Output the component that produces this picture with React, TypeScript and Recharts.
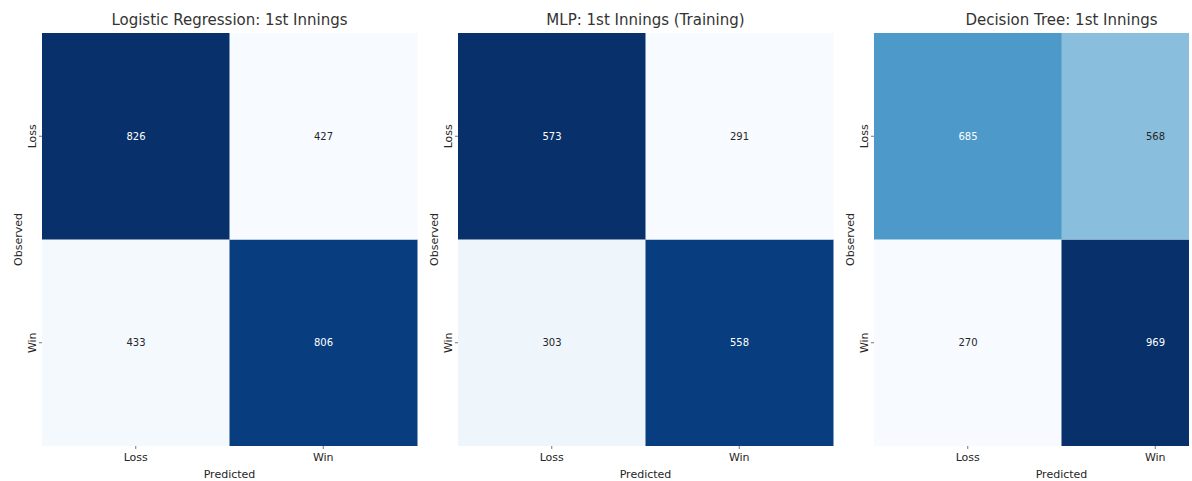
import React from "react";
import { BarChart, Bar, XAxis, YAxis, Cell, LabelList } from "recharts";

const outcomeLabels = ["Loss", "Win"];
const chartTitles = [
  "Logistic Regression: 1st Innings",
  "MLP: 1st Innings (Training)",
  "Decision Tree: 1st Innings",
];
// rows = observed outcome, entries = predicted [Loss, Win]
const logisticObservedLoss = [826, 427];
const logisticObservedWin = [433, 806];
const mlpObservedLoss = [573, 291];
const mlpObservedWin = [303, 558];
const treeObservedLoss = [685, 568];
const treeObservedWin = [270, 969];

const BLUES = [
  "#f7fbff", "#deebf7", "#c6dbef", "#9ecae1", "#6baed6",
  "#4292c6", "#2171b5", "#08519c", "#08306b",
];

function hex(c: string) {
  return [1, 3, 5].map((i) => parseInt(c.slice(i, i + 2), 16));
}
function blues(t: number) {
  const tt = Math.max(0, Math.min(1, t)) * (BLUES.length - 1);
  const i = Math.min(BLUES.length - 2, Math.floor(tt));
  const f = tt - i;
  const a = hex(BLUES[i]);
  const b = hex(BLUES[i + 1]);
  const c = a.map((v, k) => Math.round(v + (b[k] - v) * f));
  return `rgb(${c[0]},${c[1]},${c[2]})`;
}

const FONT = "DejaVu Sans";
const TEXT = "#262626";
const PLOT_LEFT = 42;
const PLOT_W = 375;
const CHART_W = 420;
const CHART_H = 481;

function YTick(props: any) {
  const { x, y, payload } = props;
  const idx = outcomeLabels.length - 1 - Math.floor(payload.value);
  const bx = x - 1;
  return (
    <g>
      <text
        x={bx}
        y={y}
        transform={`rotate(-90 ${bx} ${y})`}
        textAnchor="middle"
        fontFamily={FONT}
        fontSize={11}
        fill={TEXT}
      >
        {outcomeLabels[idx]}
      </text>
    </g>
  );
}

function Panel({
  title,
  lossRow,
  winRow,
  left,
}: {
  title: string;
  lossRow: number[];
  winRow: number[];
  left: number;
}) {
  const all = [...lossRow, ...winRow];
  const min = Math.min(...all);
  const max = Math.max(...all);
  const norm = (v: number) => (v - min) / (max - min);
  const data = outcomeLabels.map((p, i) => ({
    predicted: p,
    winSpan: 1,
    lossSpan: 1,
    winCount: winRow[i],
    lossCount: lossRow[i],
  }));

  const countLabel = (props: any) => {
    const { x, y, width, height, value } = props;
    const v = Number(value);
    return (
      <text
        x={x + width / 2}
        y={y + height / 2}
        dy="0.35em"
        textAnchor="middle"
        fontFamily={FONT}
        fontSize={10}
        fill={norm(v) > 0.5 ? "#ffffff" : TEXT}
      >
        {v}
      </text>
    );
  };

  return (
    <div style={{ position: "absolute", left, top: 0, width: CHART_W, height: CHART_H }}>
      <div
        style={{
          position: "absolute",
          left: PLOT_LEFT,
          width: PLOT_W,
          top: 13,
          textAlign: "center",
          fontFamily: FONT,
          fontSize: 15,
          lineHeight: "15px",
          color: "#333333",
          whiteSpace: "nowrap",
        }}
      >
        {title}
      </div>
      <BarChart
        width={CHART_W}
        height={CHART_H}
        data={data}
        margin={{ top: 33, right: CHART_W - PLOT_LEFT - PLOT_W, bottom: 0, left: 0 }}
        barCategoryGap={0}
        barGap={0}
      >
        <XAxis
          dataKey="predicted"
          type="category"
          height={35}
          axisLine={false}
          tickSize={3}
          tickMargin={4}
          tickLine={{ stroke: "#777777" }}
          tick={{ fontFamily: FONT, fontSize: 11, fill: TEXT }}
          label={(p: any) => {
            const vb = p.viewBox || {};
            return (
              <text
                x={vb.x + vb.width / 2}
                y={478}
                textAnchor="middle"
                fontFamily={FONT}
                fontSize={11}
                fill={TEXT}
              >
                Predicted
              </text>
            );
          }}
        />
        <YAxis
          type="number"
          domain={[0, 2]}
          ticks={[0.5, 1.5]}
          allowDecimals
          width={PLOT_LEFT}
          axisLine={false}
          tickSize={3}
          tickMargin={2}
          tickLine={{ stroke: "#777777" }}
          tick={<YTick />}
          label={(p: any) => {
            const vb = p.viewBox || {};
            const cx = 22;
            const cy = vb.y + vb.height / 2;
            return (
              <text
                x={cx}
                y={cy}
                transform={`rotate(-90 ${cx} ${cy})`}
                textAnchor="middle"
                fontFamily={FONT}
                fontSize={11}
                fill={TEXT}
              >
                Observed
              </text>
            );
          }}
        />
        <Bar dataKey="winSpan" stackId="m" isAnimationActive={false}>
          {data.map((d, i) => (
            <Cell key={`w${i}`} fill={blues(norm(d.winCount))} />
          ))}
          <LabelList dataKey="winCount" content={countLabel} />
        </Bar>
        <Bar dataKey="lossSpan" stackId="m" isAnimationActive={false}>
          {data.map((d, i) => (
            <Cell key={`l${i}`} fill={blues(norm(d.lossCount))} />
          ))}
          <LabelList dataKey="lossCount" content={countLabel} />
        </Bar>
      </BarChart>
    </div>
  );
}

export default function App() {
  return (
    <div
      style={{
        position: "absolute",
        left: 0,
        top: 0,
        width: 1192,
        height: 481,
        background: "#ffffff",
      }}
    >
      <div
        style={{
          position: "absolute",
          left: 0,
          top: 0,
          width: 1189,
          height: 481,
          overflow: "hidden",
        }}
      >
        <Panel title={chartTitles[0]} lossRow={logisticObservedLoss} winRow={logisticObservedWin} left={0} />
        <Panel title={chartTitles[1]} lossRow={mlpObservedLoss} winRow={mlpObservedWin} left={416} />
        <Panel title={chartTitles[2]} lossRow={treeObservedLoss} winRow={treeObservedWin} left={832} />
      </div>
    </div>
  );
}
